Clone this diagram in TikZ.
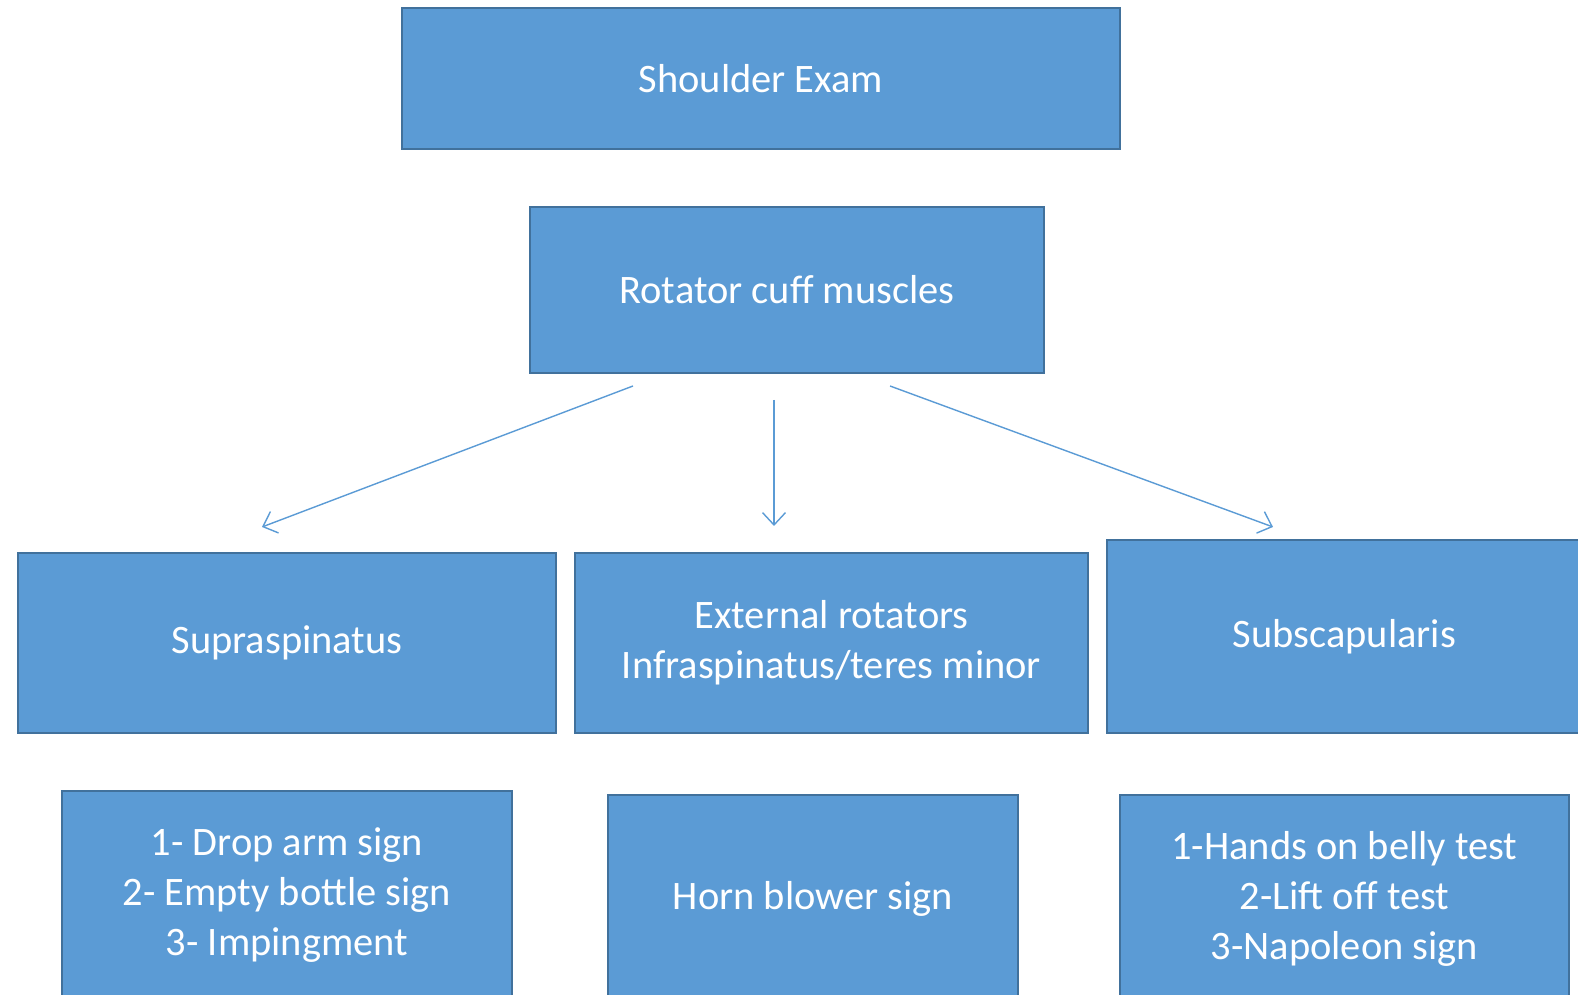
\documentclass[tikz,border=0pt]{standalone}
\usepackage{fontspec}
\setmainfont{Carlito}
\usetikzlibrary{arrows.meta}
\definecolor{boxblue}{HTML}{5B9BD5}
\definecolor{boxedge}{HTML}{41719C}
\tikzset{
  musclebox/.style={draw=boxedge, line width=0.6pt, fill=boxblue, text=white,
    align=center, inner sep=0pt, font=\fontsize{11.5}{14.1}\selectfont},
  branch/.style={draw=boxblue, line width=0.4pt, -{Straight Barb[length=3.5pt,width=6.5pt]}}
}

\begin{document}
\begin{tikzpicture}[x=0.01cm, y=-0.01cm]
      \useasboundingbox (0, 0) rectangle (1578, 995);
      \clip (0, 0) rectangle (1578, 995);

      \node[musclebox, minimum width=7.175cm, minimum height=1.41cm] (exam) at (761, 78.5) {Shoulder Exam};
      \node[musclebox, minimum width=5.14cm, minimum height=1.66cm] (cuff) at (787, 290) {Rotator cuff muscles};

      \node[musclebox, minimum width=5.385cm, minimum height=1.795cm] (supra) at (287, 643) {Supraspinatus};
      \node[musclebox, minimum width=5.13cm, minimum height=1.795cm] (external) at (831.5, 643) {External rotators\\ Infraspinatus/teres minor};
      \node[musclebox, minimum width=4.75cm, minimum height=1.93cm] (subscap) at (1344.5, 636.5) {Subscapularis};

      \node[musclebox, minimum width=4.505cm, minimum height=2.08cm] (supratests) at (287, 895) {1- Drop arm sign\\ 2- Empty bottle sign\\ 3- Impingment};
      \node[musclebox, minimum width=4.105cm, minimum height=2.08cm] (externaltests) at (813, 899) {Horn blower sign};
      \node[musclebox, minimum width=4.49cm, minimum height=2.08cm] (subscaptests) at (1344.5, 899) {1-Hands on belly test\\ 2-Lift off test\\ 3-Napoleon sign};

      % arrows from the rotator cuff box
      \coordinate (fromleft) at (633, 386);
      \coordinate (frommid) at (774, 400);
      \coordinate (fromright) at (890, 386);
      \coordinate (toleft) at (262, 527);
      \coordinate (tomid) at (774, 526);
      \coordinate (toright) at (1273, 527);
      \draw[branch] (fromleft) -- (toleft);
      \draw[branch] (frommid) -- (tomid);
      \draw[branch] (fromright) -- (toright);
\end{tikzpicture}
\end{document}
